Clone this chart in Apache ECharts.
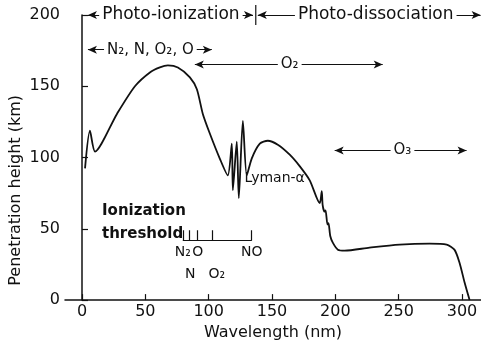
<!DOCTYPE html>
<html><head><meta charset="utf-8">
<script src="https://cdn.jsdelivr.net/npm/echarts@6/dist/echarts.min.js"></script>
<style>html,body{margin:0;padding:0;background:#fff}#c{width:481px;height:346px}</style>
</head><body><div id="c"></div>
<script>
// Penetration height curve: [wavelength nm, height km]
const curveWavelength = [2.4, 6.3, 10.3, 27.6, 41.8, 53.6, 61.5, 67.8, 75.7, 85.2, 90.7, 95.4, 101, 108.8, 115.1, 118.3, 119.1, 122.2, 123.8, 127, 130.1, 134, 140.4, 146.7, 154.6, 164, 172, 179.8, 187.7, 189.3, 190, 191.5, 192.3, 193.8, 194.6, 196, 198, 202, 207.4, 227, 250.8, 274.4, 287.9, 294, 298, 302, 306];
const curveHeight =     [92.4, 118.8, 104.2, 130.6, 150, 159.7, 163.2, 164.6, 163.2, 156.3, 147.9, 130.6, 116.7, 99.3, 87.5, 109.7, 77.1, 111.1, 71.5, 125.7, 87.5, 99.3, 109.7, 111.8, 109, 102, 93.8, 84, 68, 76.4, 66.7, 62, 63, 53, 54, 45, 40.3, 35.4, 34.7, 36.8, 38.9, 39.6, 38.9, 35.4, 26.4, 12.5, 0];
const xTicks = [0, 50, 100, 150, 200, 250, 300];
const yTicks = [0, 50, 100, 150, 200];
// Ionization thresholds (nm)
const thresholdNames = ['N₂', 'N', 'O', 'O₂', 'NO'];
const thresholdNm = [79.6, 85, 91, 103, 134];

const FONT = 'DejaVu Sans';
const BLACK = '#111';
const curveData = curveWavelength.map((w, i) => [w, curveHeight[i]]);

function arrowLine(x1, x2, y) {
  return [{coord: [x1, y], symbol: 'arrow', symbolSize: [6, 9]},
          {coord: [x2, y], symbol: 'arrow', symbolSize: [6, 9]}];
}

const baseY = 41.7, tickTop = 49;
const threshLines = [[{coord: [thresholdNm[0], baseY], symbol: 'none'}, {coord: [thresholdNm[4], baseY], symbol: 'none'}]];
thresholdNm.forEach(t => threshLines.push([{coord: [t, baseY], symbol: 'none'}, {coord: [t, tickTop], symbol: 'none'}]));

const labelPos = {'N₂': [79.6, 33.3], 'O': [91.5, 33.3], 'NO': [134, 33.3], 'N': [85.5, 18], 'O₂': [106.5, 18]};
const bgLabel = {backgroundColor: '#fff', padding: [1, 3]};
const textItems = [
  {value: [70.2, 200], label: Object.assign({formatter: 'Photo-ionization', fontSize: 17}, bgLabel)},
  {value: [231.9, 200], label: Object.assign({formatter: 'Photo-dissociation', fontSize: 17}, bgLabel)},
  {value: [54, 175.7], label: Object.assign({formatter: 'N₂, N, O₂, O', fontSize: 15}, bgLabel)},
  {value: [164, 165.3], label: Object.assign({formatter: 'O₂', fontSize: 15}, bgLabel)},
  {value: [253, 105], label: Object.assign({formatter: 'O₃', fontSize: 15}, bgLabel)},
  {value: [128.4, 85.4], label: {formatter: 'Lyman-α', align: 'left', fontSize: 14}},
  {value: [15.8, 62.5], label: {formatter: 'Ionization', align: 'left', fontSize: 15, fontWeight: 'bold'}},
  {value: [15.8, 46.5], label: {formatter: 'threshold', align: 'left', fontSize: 15, fontWeight: 'bold'}}
];
thresholdNames.forEach(n => textItems.push({value: labelPos[n], label: {formatter: n, fontSize: 14}}));

const chart = echarts.init(document.getElementById('c'));
chart.setOption({
  backgroundColor: '#fff',
  animation: false,
  grid: {left: 65, right: 0, top: 15, bottom: 43},
  xAxis: {
    type: 'value', min: -13.4, max: 315,
    name: 'Wavelength (nm)', nameLocation: 'middle', nameGap: 20,
    nameTextStyle: {fontFamily: FONT, fontSize: 16, color: BLACK},
    axisLine: {onZero: false, lineStyle: {color: BLACK, width: 1.5}},
    axisTick: {inside: true, length: 6, customValues: xTicks, lineStyle: {color: BLACK, width: 1.2}},
    axisLabel: {customValues: xTicks, fontFamily: FONT, fontSize: 16, color: BLACK, margin: 4},
    splitLine: {show: false}
  },
  yAxis: {
    type: 'value', min: 0, max: 200, interval: 50,
    axisLine: {show: true, lineStyle: {color: BLACK, width: 1.5}},
    axisTick: {show: true, inside: true, length: 6, lineStyle: {color: BLACK, width: 1.2}},
    axisLabel: {fontFamily: FONT, fontSize: 16, color: BLACK, margin: 5},
    splitLine: {show: false}
  },
  graphic: [{type: 'text', left: 8, top: 95, rotation: Math.PI / 2,
    style: {text: 'Penetration height (km)', font: '16px "DejaVu Sans"', fill: BLACK}}],
  series: [
    {type: 'line', data: curveData, showSymbol: false, smooth: 0.25, lineStyle: {color: BLACK, width: 1.8}, z: 3},
    {type: 'line', data: [], clip: false,
     markLine: {silent: true, animation: false, lineStyle: {color: BLACK, width: 1.2, type: 'solid'}, label: {show: false},
       data: [
         arrowLine(4.7, 135, 200),
         arrowLine(138.8, 314.7, 200),
         arrowLine(4.7, 102.5, 175.7),
         arrowLine(89.1, 237.4, 165.3),
         arrowLine(199.5, 303.6, 105)
       ].concat(threshLines)}},
    {type: 'line', data: [[137.2, 193], [137.2, 207]], clip: false, showSymbol: false,
     lineStyle: {color: BLACK, width: 1.2}},
    {type: 'scatter', data: textItems, symbolSize: 0, clip: false, z: 5,
     itemStyle: {opacity: 1},
     label: {show: true, position: 'inside', color: BLACK, fontFamily: FONT, align: 'center', verticalAlign: 'middle',
       textBorderWidth: 0, opacity: 1}}
  ]
});
</script></body></html>
